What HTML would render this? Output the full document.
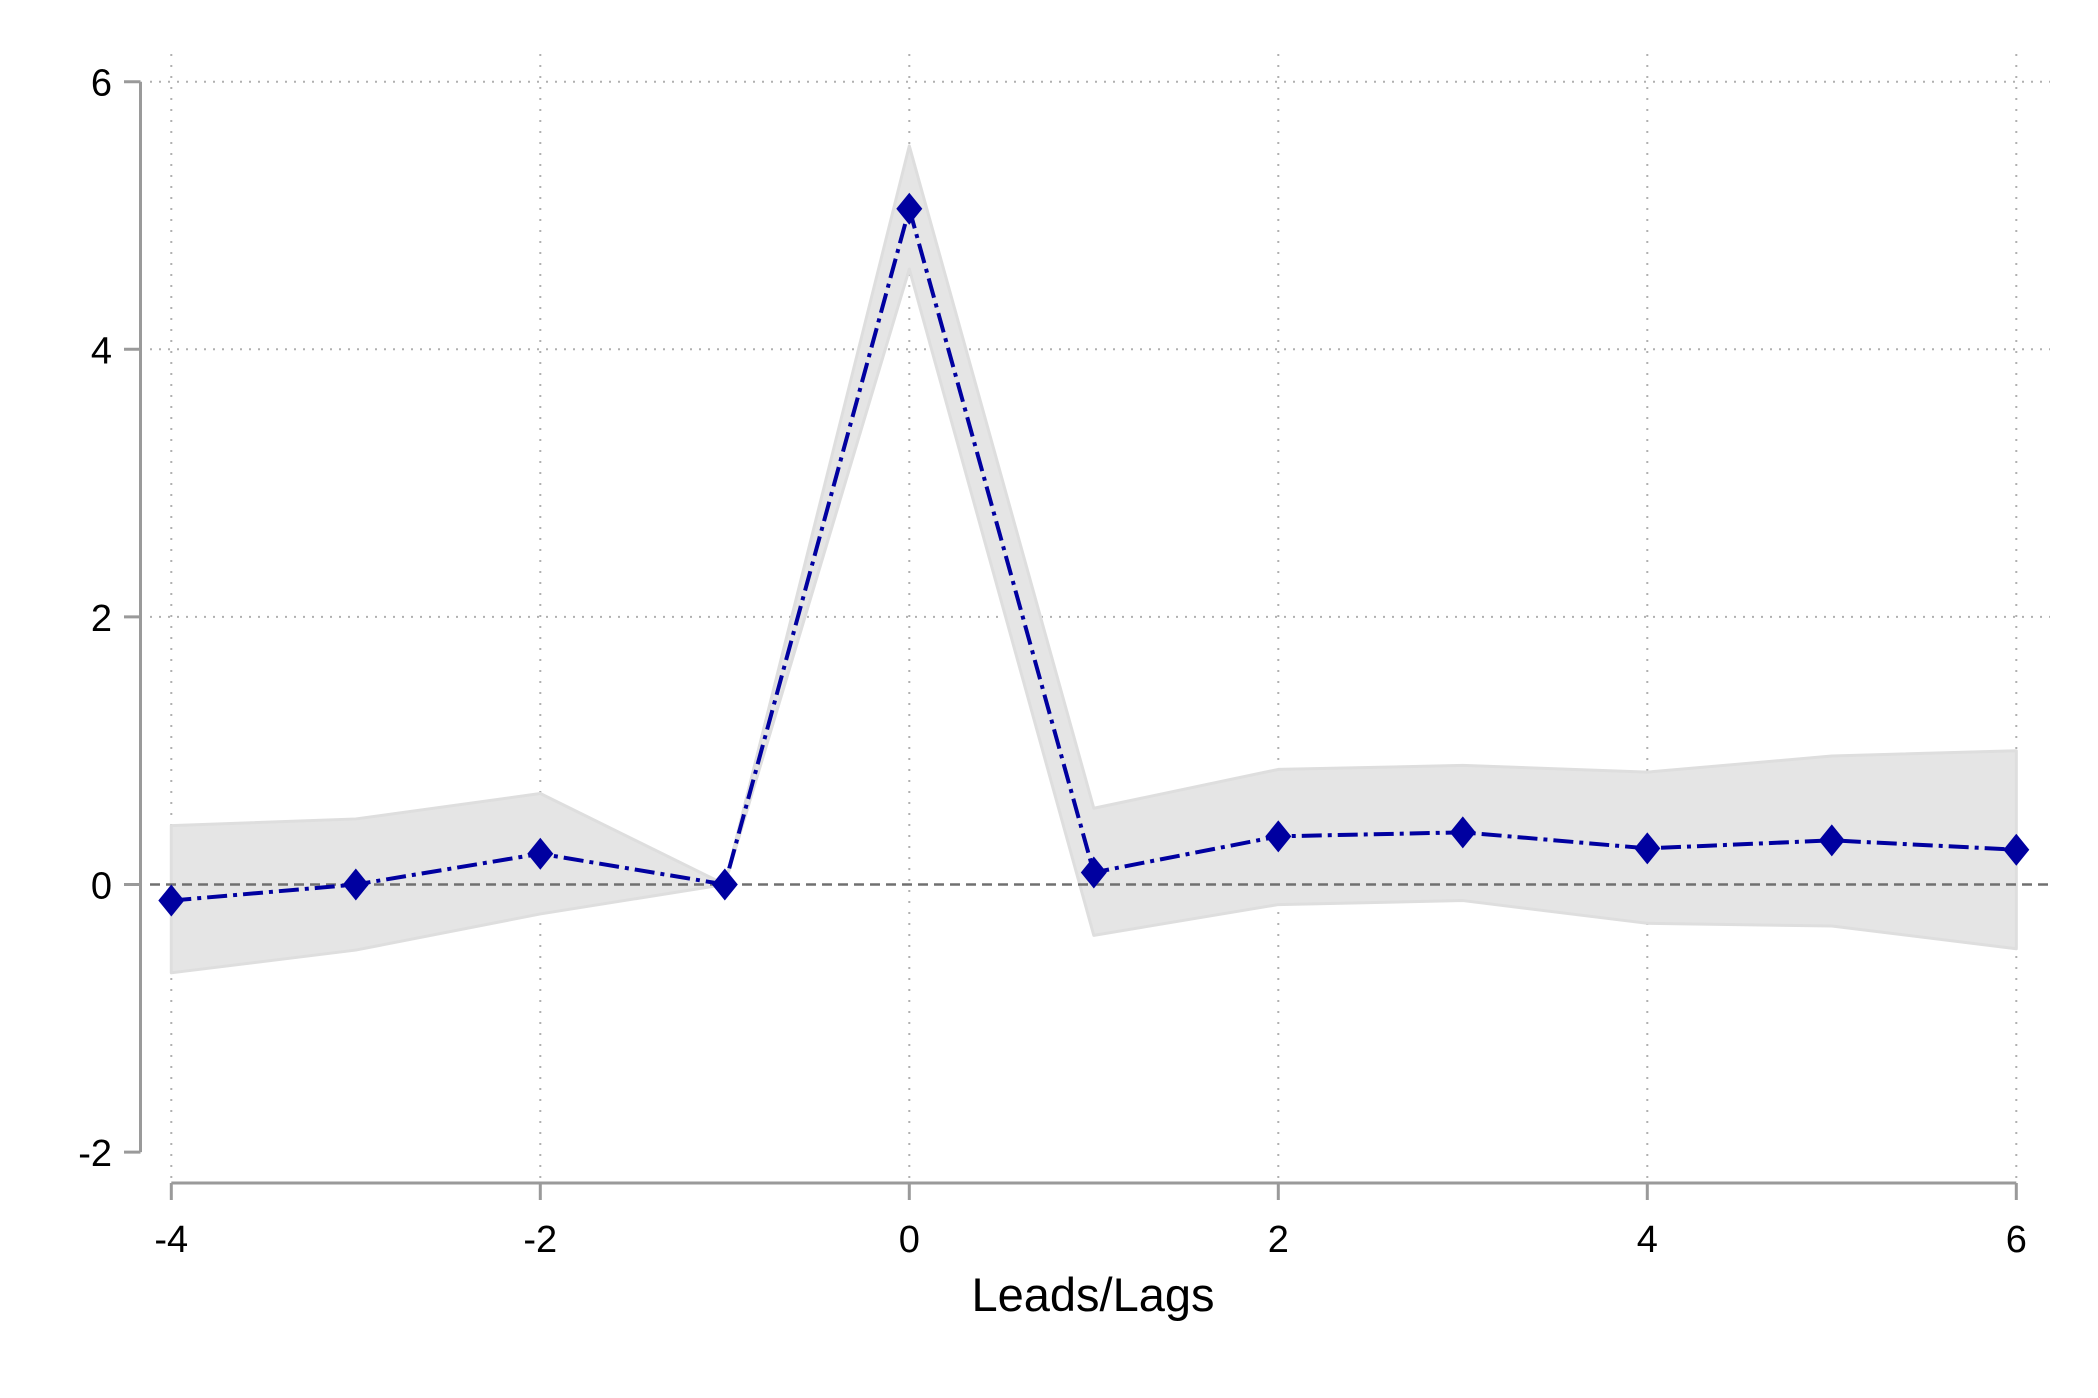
<!DOCTYPE html>
<html><head><meta charset="utf-8"><style>
html,body{margin:0;padding:0;background:#fff;}
svg{display:block;}
text{font-family:"Liberation Sans",sans-serif;fill:#000;}
</style></head><body>
<svg id="chart" width="2098" height="1398" viewBox="0 0 2098 1398" xmlns="http://www.w3.org/2000/svg">
<g id="grid"></g>
<g id="band"></g>
<g id="axes"></g>
<g id="series"></g>
<text x="1093" y="1311" font-size="47" text-anchor="middle">Leads/Lags</text>
</svg>
<script>
const periods = [-4,-3,-2,-1,0,1,2,3,4,5,6];
const coef = [-0.12,0.0,0.23,0.0,5.05,0.09,0.36,0.39,0.27,0.33,0.26];
const ciUpper = [0.44,0.49,0.68,0.0,5.52,0.57,0.86,0.89,0.84,0.96,1.0];
const ciLower = [-0.66,-0.49,-0.22,0.0,4.6,-0.38,-0.15,-0.12,-0.29,-0.31,-0.48];
const xTicks = [-4,-2,0,2,4,6];
const yTicks = [-2,0,2,4,6];

const NS='http://www.w3.org/2000/svg';
const X = v => 171.3 + (v + 4) * 184.5;
const Y = v => 884.5 - v * 133.8;
function mk(parent, tag, attrs){const e=document.createElementNS(NS,tag);for(const k in attrs)e.setAttribute(k,attrs[k]);parent.appendChild(e);return e;}
const grid=document.getElementById('grid'), band=document.getElementById('band'), axes=document.getElementById('axes'), series=document.getElementById('series');

xTicks.forEach(t=>{
  const l=mk(grid,'line',{x1:X(t),x2:X(t),y1:54,y2:1178,stroke:'#b0b0b0','stroke-width':2,'stroke-dasharray':'2 9'});
  
  
});
yTicks.filter(t=>t>0).forEach(t=>{
  const l=mk(grid,'line',{x1:150,x2:2050,y1:Y(t),y2:Y(t),stroke:'#b0b0b0','stroke-width':2,'stroke-dasharray':'2 7'});
  
  
});

let pts=periods.map((p,i)=>X(p)+','+Y(ciUpper[i]));
for(let i=periods.length-1;i>=0;i--) pts.push(X(periods[i])+','+Y(ciLower[i]));
const poly=mk(band,'polygon',{points:pts.join(' '),fill:'#e5e5e5',stroke:'#dedede','stroke-width':3,'stroke-linejoin':'round'});



const zl=mk(axes,'line',{x1:150,x2:2050,y1:Y(0),y2:Y(0),stroke:'#707070','stroke-width':2.5,'stroke-dasharray':'10 6'});



const ya=mk(axes,'line',{x1:140.5,x2:140.5,y1:Y(6),y2:Y(-2),stroke:'#9a9a9a','stroke-width':3});


yTicks.forEach(t=>{
  const tk=mk(axes,'line',{x1:124,x2:140.5,y1:Y(t),y2:Y(t),stroke:'#9a9a9a','stroke-width':3});
  
  
  const tx=mk(axes,'text',{x:112,y:Y(t)+14,'font-size':38,'text-anchor':'end'});
  tx.textContent=t;
  
  
});
const xa=mk(axes,'line',{x1:X(-4),x2:X(6),y1:1183,y2:1183,stroke:'#9a9a9a','stroke-width':3});


xTicks.forEach(t=>{
  const tk=mk(axes,'line',{x1:X(t),x2:X(t),y1:1183,y2:1200,stroke:'#9a9a9a','stroke-width':3});
  
  
  const tx=mk(axes,'text',{x:X(t),y:1252,'font-size':38,'text-anchor':'middle'});
  tx.textContent=t;
  
  
});

const line=mk(series,'polyline',{points:periods.map((p,i)=>X(p)+','+Y(coef[i])).join(' '),fill:'none',stroke:'#0000a0','stroke-width':4,'stroke-dasharray':'20 6 4 6'});


periods.forEach((p,i)=>{
  const x=X(p),y=Y(coef[i]);
  const d=mk(series,'polygon',{points:`${x},${y-16} ${x+13},${y} ${x},${y+16} ${x-13},${y}`,fill:'#0000a0'});
  
  
});
</script>
</body></html>
